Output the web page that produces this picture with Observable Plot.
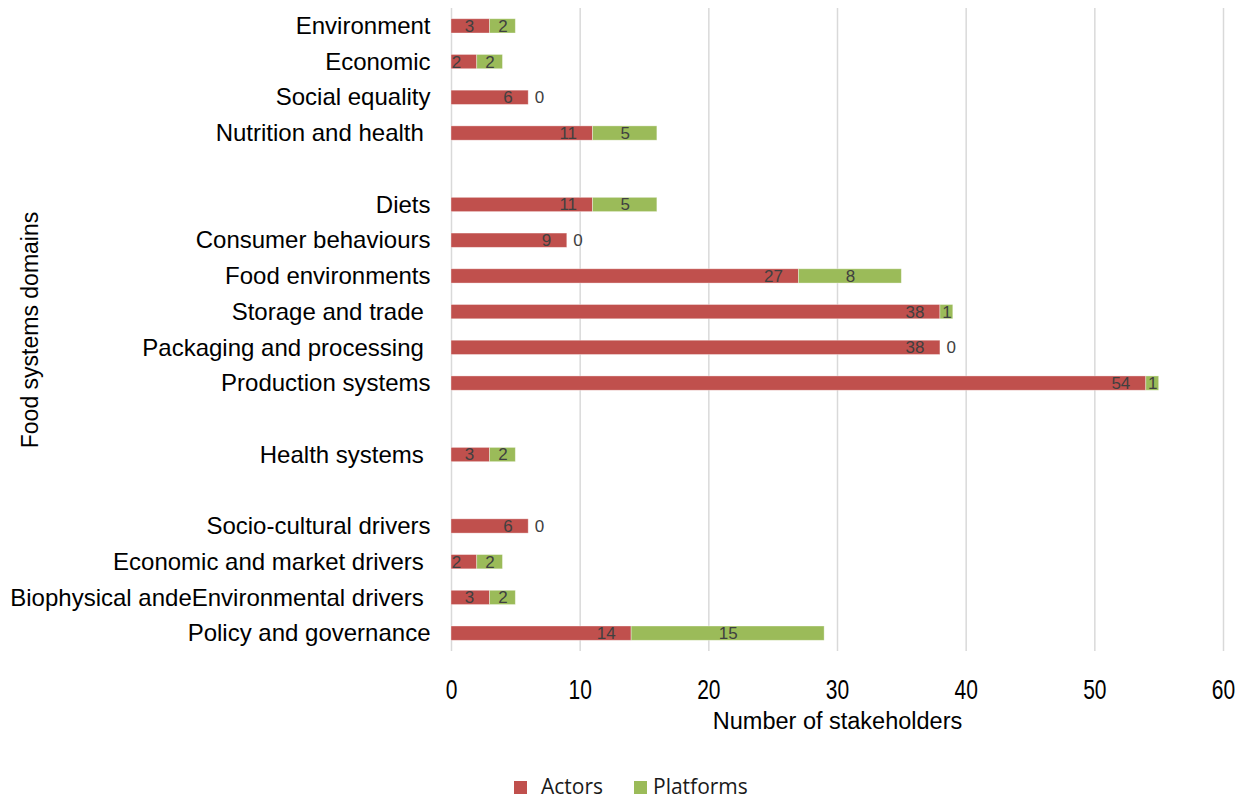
<!DOCTYPE html>
<html><head><meta charset="utf-8">
<script src="https://cdn.jsdelivr.net/npm/d3@7"></script>
<script src="https://cdn.jsdelivr.net/npm/@observablehq/plot@0.6"></script>
<style>
body{margin:0;background:#fff;}
#wrap{position:relative;width:1247px;height:801px;overflow:hidden;}
#legend{position:absolute;left:0;top:0;width:1247px;height:801px;font-family:"Open Sans",sans-serif;font-size:21px;line-height:21px;color:#1a1a1a;pointer-events:none;}
.sw{position:absolute;width:13px;height:13px;top:781px;}
.lt{position:absolute;top:776px;white-space:nowrap;}
</style></head>
<body><div id="wrap"><div id="chart"></div><div id="legend"></div></div>
<script>
const categories = ["Environment","Economic","Social equality","Nutrition and health\u00a0"," ",
 "Diets","Consumer behaviours","Food environments","Storage and trade\u00a0","Packaging and processing\u00a0","Production systems","  ",
 "Health systems\u00a0","   ",
 "Socio-cultural drivers","Economic and market drivers\u00a0","Biophysical andeEnvironmental drivers\u00a0","Policy and governance"];
const actors    = [3,2,6,11,null, 11,9,27,38,38,54,null, 3,null, 6,2,3,14];
const platforms = [2,2,0,5,null, 5,0,8,1,0,1,null, 2,null, 0,2,2,15];
const seriesNames = ["Actors","Platforms"];
const seriesColors = ["#C0504D","#9BBB59"];
const xTicks = [0,10,20,30,40,50,60];
const xTitle = "Number of stakeholders";
const yTitle = "Food systems domains";

const rows = categories.map((c,i)=>({cat:c, a:actors[i], p:platforms[i]})).filter(d=>d.a!=null);
const long = [];
rows.forEach(d=>{ long.push({cat:d.cat, series:"Actors", v:d.a}); long.push({cat:d.cat, series:"Platforms", v:d.p}); });

const arial = "Liberation Sans, Arial, sans-serif";
const chart = Plot.plot({
  width:1247, height:745,
  marginLeft:451, marginRight:24, marginTop:8, marginBottom:94,
  x:{domain:[0,60], ticks:xTicks},
  y:{domain:categories, paddingInner:0.6, paddingOuter:0.3, round:false},
  color:{domain:seriesNames, range:seriesColors},
  style:{background:"#fff"},
  marks:[
    Plot.gridX(xTicks.filter(t=>t>0), {stroke:"#d9d9d9", strokeOpacity:1, strokeWidth:1.5}),
    Plot.ruleX([0], {stroke:"#d9d9d9", strokeWidth:1.5}),
    Plot.barX(long, Plot.stackX({x:"v", y:"cat", fill:"series", order:seriesNames, stroke:"#fff", strokeOpacity:0.45, strokeWidth:0.8})),
    Plot.text(rows, {x:"a", y:"cat", text:d=>String(d.a), textAnchor:"end", dx:-16, fill:"#404040", fontSize:17, fontFamily:arial}),
    Plot.text(rows.filter(d=>d.p>0), {x:d=>d.a+d.p/2, y:"cat", text:d=>String(d.p), fill:"#404040", fontSize:17, fontFamily:arial}),
    Plot.text(rows.filter(d=>d.p===0), {x:"a", y:"cat", text:d=>String(d.p), textAnchor:"start", dx:6, fill:"#404040", fontSize:17, fontFamily:arial}),
    Plot.axisY({tickSize:0, tickPadding:21, fontSize:24, fontFamily:arial, color:"#000", label:null,
      tickFormat:d=>d.trim()===""?"":d}),
    Plot.axisX({ticks:xTicks, tickSize:0, tickPadding:28, fontSize:28, fontFamily:arial, color:"#000", label:null}),
    Plot.text([xTitle], {frameAnchor:"bottom", lineAnchor:"middle", textAnchor:"middle", dy:70, dx:0, fontSize:23.5, fontFamily:arial, fill:"#000"}),
    Plot.text([yTitle], {frameAnchor:"left", lineAnchor:"middle", textAnchor:"middle", dx:-421, dy:0, rotate:-90, fontSize:23, fontFamily:arial, fill:"#000"})
  ]
});
document.getElementById("chart").append(chart);

// condense x tick labels horizontally
chart.querySelectorAll('g[aria-label="x-axis tick label"] text').forEach(t=>{
  const tr = t.getAttribute("transform");
  if (tr) t.setAttribute("transform", tr + " scale(0.75,1)");
  else {
    const x = +t.getAttribute("x") || 0;
    t.setAttribute("transform", `translate(${x},0) scale(0.75,1) translate(${-x},0)`);
  }
});

const lg = document.getElementById("legend");
const swX = [514, 634], txX = [541, 653];
seriesNames.forEach((s,i)=>{
  const sw = document.createElement("div"); sw.className="sw"; sw.style.left = swX[i]+"px"; sw.style.background = seriesColors[i];
  const tx = document.createElement("div"); tx.className="lt"; tx.style.left = txX[i]+"px"; tx.textContent = s;
  lg.append(sw, tx);
});
</script></body></html>
